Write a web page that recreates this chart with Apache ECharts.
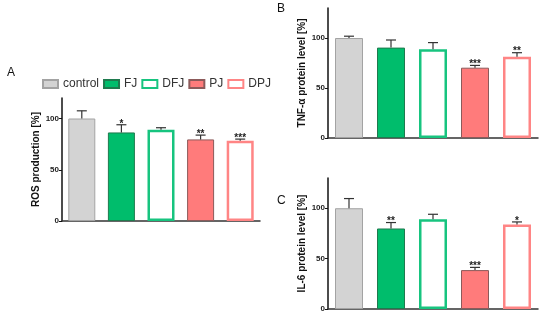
<!DOCTYPE html>
<html>
<head>
<meta charset="utf-8">
<script src="https://cdn.jsdelivr.net/npm/echarts@6/dist/echarts.min.js"></script>
<style>html,body{margin:0;padding:0;background:#fff}#c{width:550px;height:320px}</style>
</head>
<body>
<div id="c"></div>
<script>
const groups = ['control', 'FJ', 'DFJ', 'PJ', 'DPJ'];
const yTicks = [0, 50, 100];

const rosMean = [100, 86.4, 89, 79.6, 78.3];
const rosSd = [7.5, 7.5, 2, 4.2, 1.6];
const rosSig = ['', '*', '', '**', '***'];

const tnfMean = [100, 90.4, 88.7, 70.3, 81.3];
const tnfSd = [1.8, 7.6, 6.7, 2.3, 4];
const tnfSig = ['', '', '', '***', '**'];

const il6Mean = [100, 79.9, 89.1, 38.6, 83.9];
const il6Sd = [9.6, 5.9, 4.9, 2.7, 2.5];
const il6Sig = ['', '**', '', '***', '*'];

const panelTitles = ['ROS production [%]', 'TNF-\u03b1 protein level [%]', 'IL-6 protein level [%]'];
const panelLetters = ['A', 'B', 'C'];

const FONT = 'Liberation Sans, Arial, sans-serif';
const styles = [
  {color: '#d3d3d3', borderColor: '#a3a3a3', borderWidth: 1},
  {color: '#00bd6c', borderColor: '#1f7a4e', borderWidth: 1},
  {color: '#ffffff', borderColor: '#17c47f', borderWidth: 2.5},
  {color: '#ff7b7b', borderColor: '#8c5a5a', borderWidth: 1},
  {color: '#ffffff', borderColor: '#ff8585', borderWidth: 2.5}
];

const panels = [
  {mean: rosMean, sd: rosSd, sig: rosSig, max: 120, grid: {left: 62, right: 290, top: 98, bottom: 99}, barWidth: 27},
  {mean: tnfMean, sd: tnfSd, sig: tnfSig, max: 130, grid: {left: 328, right: 12, top: 8, bottom: 182}, barWidth: 28},
  {mean: il6Mean, sd: il6Sd, sig: il6Sig, max: 130, grid: {left: 328, right: 12, top: 178, bottom: 11}, barWidth: 28}
];

const grids = [], xAxes = [], yAxes = [], series = [];
panels.forEach((p, k) => {
  grids.push(p.grid);
  xAxes.push({
    type: 'category', gridIndex: k, data: groups,
    axisLine: {lineStyle: {color: '#333', width: 1.5}},
    axisTick: {alignWithLabel: true, length: 4, lineStyle: {color: '#333', width: 1}},
    axisLabel: {show: false}
  });
  yAxes.push({
    type: 'value', gridIndex: k, min: 0, max: p.max, interval: 50,
    name: panelTitles[k], nameLocation: 'middle', nameGap: 21,
    nameTextStyle: {fontFamily: FONT, fontWeight: 'bold', fontSize: 10, color: '#111'},
    axisLine: {show: true, lineStyle: {color: '#111', width: 1.5}},
    axisTick: {show: true, length: 3, customValues: yTicks, lineStyle: {color: '#111'}},
    axisLabel: {customValues: yTicks, fontFamily: FONT, fontWeight: 'bold', fontSize: 8, color: '#222', margin: 3},
    splitLine: {show: false}
  });
  groups.forEach((g, i) => {
    series.push({
      type: 'bar', name: g, xAxisIndex: k, yAxisIndex: k,
      barWidth: p.barWidth, barGap: '-100%',
      itemStyle: styles[i],
      data: groups.map((_, j) => j === i ? p.mean[j] : '-')
    });
  });
  series.push({
    type: 'custom', xAxisIndex: k, yAxisIndex: k, z: 5,
    data: groups.map((_, j) => [j, p.mean[j], p.mean[j] + p.sd[j]]),
    renderItem: function (params, api) {
      const base = api.coord([api.value(0), api.value(1)]);
      const top = api.coord([api.value(0), api.value(2)]);
      const hw = 5;
      const st = {stroke: '#333', lineWidth: 1.2};
      const children = [
        {type: 'line', shape: {x1: base[0], y1: base[1], x2: top[0], y2: top[1]}, style: st},
        {type: 'line', shape: {x1: top[0] - hw, y1: top[1], x2: top[0] + hw, y2: top[1]}, style: st}
      ];
      const s = p.sig[params.dataIndex];
      if (s) {
        children.push({type: 'text', style: {text: s, x: top[0], y: top[1] + 4, align: 'center', verticalAlign: 'bottom',
          font: 'bold 10px ' + FONT, fill: '#222'}});
      }
      return {type: 'group', children: children};
    }
  });
});

const letterPos = [[7, 67], [277, 3], [277, 195]];
const graphic = panelLetters.map((t, k) => ({
  type: 'text', left: letterPos[k][0], top: letterPos[k][1],
  style: {text: t, font: '12px ' + FONT, fill: '#111'}
}));

const chart = echarts.init(document.getElementById('c'), null, {renderer: 'canvas'});
chart.setOption({
  animation: false,
  backgroundColor: '#fff',
  legend: {
    data: groups, left: 42, top: 78, icon: 'rect', itemWidth: 15, itemHeight: 8, itemGap: 4,
    textStyle: {fontFamily: FONT, fontSize: 12, color: '#333'},
    padding: 0
  },
  grid: grids, xAxis: xAxes, yAxis: yAxes, series: series, graphic: graphic
});
</script>
</body>
</html>
